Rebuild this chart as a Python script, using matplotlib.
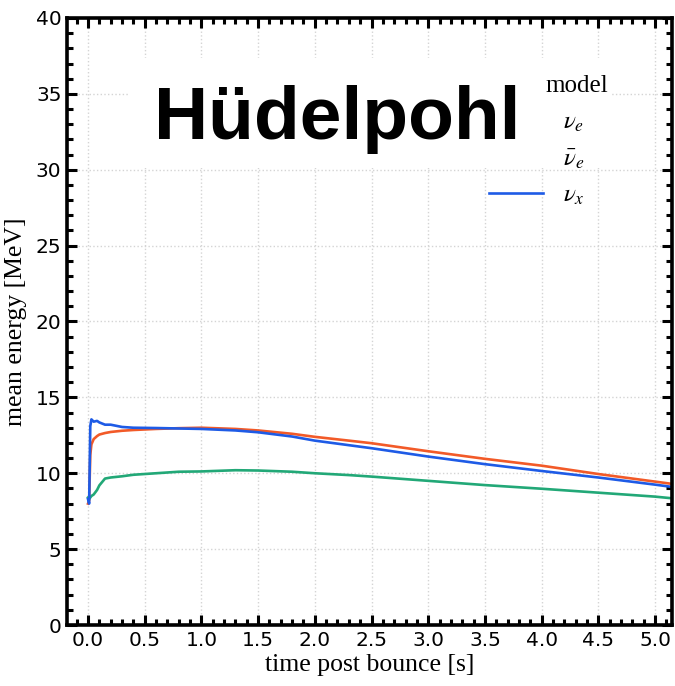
import matplotlib
matplotlib.use('Agg')
import matplotlib.pyplot as plt
from matplotlib.lines import Line2D
from matplotlib.patches import Rectangle
from matplotlib.ticker import MultipleLocator

plt.rcParams['mathtext.fontset'] = 'stix'

# ---- data ----
time = [0.0, 0.01, 0.02, 0.03, 0.05, 0.08, 0.1, 0.15, 0.2, 0.3, 0.4, 0.6, 0.8,
        1.0, 1.3, 1.5, 1.8, 2.0, 2.3, 2.5, 3.0, 3.5, 4.0, 4.5, 5.0, 5.15]
nu_e = [8.0, 8.2, 11.2, 11.9, 12.25, 12.45, 12.55, 12.65, 12.72, 12.8, 12.85, 12.92, 12.97,
        13.0, 12.92, 12.82, 12.6, 12.4, 12.15, 11.98, 11.45, 10.95, 10.5, 9.95, 9.45, 9.3]
nubar_e = [8.4, 8.3, 8.4, 8.5, 8.6, 8.9, 9.2, 9.65, 9.72, 9.8, 9.9, 10.0, 10.1,
           10.12, 10.2, 10.18, 10.1, 10.0, 9.88, 9.78, 9.5, 9.22, 8.98, 8.72, 8.46, 8.35]
nu_x = [8.3, 8.0, 13.1, 13.55, 13.4, 13.45, 13.35, 13.2, 13.2, 13.05, 13.0, 12.98, 12.95,
        12.92, 12.82, 12.7, 12.42, 12.15, 11.85, 11.65, 11.1, 10.6, 10.15, 9.72, 9.25, 9.1]

labels = [r'$\nu_e$', r'$\bar{\nu}_e$', r'$\nu_x$']
colors = ['#f25a28', '#22a877', '#1e5be6']
xticks = [0.0, 0.5, 1.0, 1.5, 2.0, 2.5, 3.0, 3.5, 4.0, 4.5, 5.0]
yticks = [0, 5, 10, 15, 20, 25, 30, 35, 40]

fig = plt.figure(figsize=(6.75, 6.86), dpi=100)
ax = fig.add_axes([0.0993, 0.0889, 0.8963, 0.8849])
ax.set_axisbelow(True)
ax.grid(True, which='major', ls=':', color='#d4d4d4', lw=1)

series = [nu_e, nubar_e, nu_x]
handles = []
for s, c, lab in zip(series, colors, labels):
    ln, = ax.plot(time, s, color=c, lw=1.9, label=lab, zorder=2)
    handles.append(ln)

# white box behind the big title
ax.add_patch(Rectangle((130 / 675, 1 - 168 / 686), 480 / 675, 110 / 686,
                       transform=fig.transFigure, facecolor='white',
                       edgecolor='none', zorder=1))
ax.text(0.499, 1 - 139 / 686, 'Hüdelpohl', transform=fig.transFigure,
        ha='center', va='baseline', fontsize=54, fontweight='bold',
        family='Liberation Sans', zorder=3)

ax.set_xlim(-0.185, 5.15)
ax.set_ylim(0, 40)
ax.set_xticks(xticks)
ax.set_xticklabels([f'{v:.1f}' for v in xticks])
ax.set_yticks(yticks)
ax.xaxis.set_minor_locator(MultipleLocator(0.1))
ax.yaxis.set_minor_locator(MultipleLocator(1))
ax.tick_params(which='both', direction='in', top=True, right=True, width=2.2,
               labelsize=14.5, pad=4)
ax.tick_params(which='major', length=7.5)
ax.tick_params(which='minor', length=4.5)
for sp in ax.spines.values():
    sp.set_linewidth(2.6)

ax.set_xlabel('time post bounce [s]', family='Liberation Serif', fontsize=18.5, labelpad=3)
ax.set_ylabel('mean energy [MeV]', family='Liberation Serif', fontsize=18.5, labelpad=6)

inv = [Line2D([], [], color='none'), Line2D([], [], color='none'), handles[2]]
leg = ax.legend(inv, labels, title='model', loc='upper left',
                bbox_to_anchor=(489 / 675, 1 - 75 / 686), bbox_transform=fig.transFigure,
                frameon=False, fontsize=18,
                title_fontproperties={'family': 'Liberation Serif', 'size': 18},
                handlelength=2.16, handletextpad=0.8, labelspacing=0.5,
                borderpad=0, borderaxespad=0, alignment='left')
leg.set_zorder(5)
# shift the legend title to the right (offset in pixels inside the legend box)
leg.get_title().set_position((56, 0))

fig.savefig('out.png', dpi=100)
